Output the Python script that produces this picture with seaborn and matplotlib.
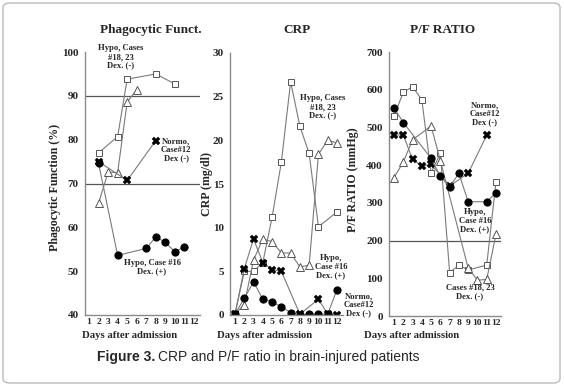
import matplotlib
matplotlib.use("Agg")
import matplotlib.pyplot as plt
import seaborn as sns
import pandas as pd
from matplotlib.patches import FancyBboxPatch

sns.set_theme(style="white")
plt.rcParams['font.family'] = ['Liberation Serif', 'DejaVu Serif']
plt.rcParams['font.weight'] = 'bold'

days_ticks = list(range(1, 13))

# Phagocytic function (%)
phago_sq_x = [2, 4, 5, 8, 10]
phago_sq_y = [77, 80.7, 93.8, 95, 92.7]
phago_tri_x = [2, 3, 4, 5, 6]
phago_tri_y = [65.5, 72.6, 72.5, 88.6, 91.4]
phago_x_x = [2, 5, 8]
phago_x_y = [75.0, 70.7, 79.8]
phago_ci_x = [2, 4, 7, 8, 9, 10, 11]
phago_ci_y = [74.6, 53.6, 55.2, 57.8, 56.6, 54.4, 55.6]

# CRP (mg/dl)
crp_sq_x = [1, 2, 3, 4, 5, 6, 7, 8, 9, 10, 12]
crp_sq_y = [0.1, 5.0, 5.0, 6.0, 11.2, 17.5, 26.7, 21.6, 18.5, 10.1, 11.8]
crp_tri_x = [1, 2, 3, 4, 5, 6, 7, 8, 9, 10, 11, 12]
crp_tri_y = [0.1, 1.2, 6.3, 8.7, 8.4, 7.1, 7.1, 5.5, 5.7, 18.4, 20.0, 19.7]
crp_x_x = [1, 2, 3, 4, 5, 6, 8, 10, 11, 12]
crp_x_y = [0.1, 5.3, 8.7, 6.0, 5.2, 5.0, 0.1, 1.8, 0.1, 0.0]
crp_ci_x = [1, 2, 3, 4, 5, 6, 7, 8, 9, 10, 11, 12]
crp_ci_y = [0.1, 1.9, 3.8, 1.8, 1.5, 0.95, 0.27, 0.05, 0.1, 0.1, 0.1, 2.9]

# P/F ratio (mmHg)
pf_sq_x = [1, 2, 3, 4, 5, 6, 7, 8, 9, 11, 12]
pf_sq_y = [530, 593, 608, 573, 380, 431, 115, 135, 122, 135, 356]
pf_tri_x = [1, 2, 3, 5, 6, 9, 10, 11, 12]
pf_tri_y = [367, 408, 467, 504, 412, 127, 95, 97, 217]
pf_x_x = [1, 2, 3, 4, 5, 7, 9, 11]
pf_x_y = [480, 480, 415, 398, 402, 345, 378, 480]
pf_ci_x = [1, 2, 5, 6, 7, 8, 9, 11, 12]
pf_ci_y = [552, 513, 418, 370, 343, 378, 303, 303, 327]

W, H = 564, 387
fig = plt.figure(figsize=(W / 100, H / 100), dpi=100)

def fx(px):
    return px / W

def fy(py):
    return 1 - py / H

LINE = '#7a7a7a'
SPINE = '#8a8a8a'
REF = '#555555'

def series(ax, x, y, kind):
    df = pd.DataFrame({'x': x, 'y': y})
    style = dict(color=LINE, linewidth=0.8, markeredgewidth=0.7)
    if kind == 'sq':
        style.update(marker='s', markersize=4.8, markerfacecolor='white', markeredgecolor='#555555')
    elif kind == 'tri':
        style.update(marker='^', markersize=5.2, markerfacecolor='white', markeredgecolor='#555555')
    elif kind == 'x':
        style.update(marker='X', markersize=5.5, markerfacecolor='black', markeredgecolor='black', markeredgewidth=0.3)
    else:
        style.update(marker='o', markersize=5.2, markerfacecolor='black', markeredgecolor='black')
    sns.lineplot(data=df, x='x', y='y', ax=ax, estimator=None, sort=False, **style)

def make_axes(left_px, right_px, top_px, bottom_px, xlim, ylim, yticks):
    ax = fig.add_axes([fx(left_px), fy(bottom_px), (right_px - left_px) / W, (bottom_px - top_px) / H])
    ax.set_xlim(*xlim)
    ax.set_ylim(*ylim)
    ax.set_facecolor('none')
    for s in ['top', 'right']:
        ax.spines[s].set_visible(False)
    for s in ['left', 'bottom']:
        ax.spines[s].set_color(SPINE)
        ax.spines[s].set_linewidth(1.0)
    ax.set_xticks(days_ticks)
    ax.set_yticks(yticks)
    ax.tick_params(axis='y', direction='out', length=3.5, width=0.8, color=SPINE, pad=1, labelsize=8)
    ax.tick_params(axis='x', direction='in', length=2, width=0.6, color=SPINE, pad=2, labelsize=6.8)
    for lab in ax.get_xticklabels() + ax.get_yticklabels():
        lab.set_fontweight('bold')
    return ax

ann = dict(fontsize=6.2, fontweight='bold', ha='center', va='center', linespacing=1.1)

# Panel 1
ax1 = make_axes(85, 200, 52, 315, (0.58, 12.63), (40, 100), [40, 50, 60, 70, 80, 90, 100])
ax1.axhline(90, color=REF, lw=0.9, zorder=1)
ax1.axhline(70, color=REF, lw=0.9, zorder=1)
series(ax1, phago_sq_x, phago_sq_y, 'sq')
series(ax1, phago_tri_x, phago_tri_y, 'tri')
series(ax1, phago_x_x, phago_x_y, 'x')
series(ax1, phago_ci_x, phago_ci_y, 'ci')
ax1.set_xlabel('')
ax1.set_ylabel('')

# Panel 2
ax2 = make_axes(230, 343, 53, 315, (0.46, 12.65), (0, 30), [0, 5, 10, 15, 20, 25, 30])
series(ax2, crp_sq_x, crp_sq_y, 'sq')
series(ax2, crp_tri_x, crp_tri_y, 'tri')
series(ax2, crp_x_x, crp_x_y, 'x')
series(ax2, crp_ci_x, crp_ci_y, 'ci')
ax2.set_xlabel('')
ax2.set_ylabel('')

# Panel 3
ax3 = make_axes(389, 501, 52, 316, (0.46, 12.54), (0, 700), [0, 100, 200, 300, 400, 500, 600, 700])
ax3.axhline(200, color=REF, lw=0.9, zorder=1)
series(ax3, pf_sq_x, pf_sq_y, 'sq')
series(ax3, pf_tri_x, pf_tri_y, 'tri')
series(ax3, pf_x_x, pf_x_y, 'x')
series(ax3, pf_ci_x, pf_ci_y, 'ci')
ax3.set_xlabel('')
ax3.set_ylabel('')

# Titles
for x, t in [(151, 'Phagocytic Funct.'), (297, 'CRP'), (443, 'P/F RATIO')]:
    fig.text(fx(x), fy(30), t, fontsize=9.5, fontweight='bold', ha='center', va='center')

# x labels
for x in [130, 265, 412]:
    fig.text(fx(x), fy(336), 'Days after admission', fontsize=7.7, fontweight='bold', ha='center', va='center')

# y labels
for x, y, t in [(55, 187, 'Phagocytic Function (%)'), (207, 184, 'CRP (mg/dl)'), (353, 180, 'P/F RATIO (mmHg)')]:
    fig.text(fx(x), fy(y), t, fontsize=8.6, fontweight='bold', ha='center', va='center', rotation=90)

# annotations
fig.text(fx(121), fy(57), 'Hypo, Cases\n#18, 23\nDex. (-)', **ann)
fig.text(fx(176), fy(150), 'Normo,\nCase#12\nDex (-)', **ann)
fig.text(fx(152), fy(267), 'Hypo, Case #16\nDex. (+)', **ann)
fig.text(fx(323), fy(107), 'Hypo, Cases\n#18, 23\nDex. (-)', **ann)
fig.text(fx(331), fy(267), 'Hypo,\nCase #16\nDex. (+)', **ann)
fig.text(fx(359), fy(305), 'Normo,\nCase#12\nDex (-)', **ann)
fig.text(fx(485), fy(114), 'Normo,\nCase#12\nDex (-)', **ann)
fig.text(fx(475), fy(221), 'Hypo,\nCase #16\nDex. (+)', **ann)
fig.text(fx(470), fy(292), 'Cases #18, 23\nDex. (-)', **ann)

# Caption
cap1 = fig.text(fx(97), fy(357), 'Figure 3.', fontsize=10, fontweight='bold', ha='left', va='center',
                family=['Liberation Sans', 'DejaVu Sans'])
fig.canvas.draw()
bb = cap1.get_window_extent()
fig.text((bb.x1 + 3) / W, fy(357), 'CRP and P/F ratio in brain-injured patients', fontsize=10,
         fontweight='normal', ha='left', va='center', family=['Liberation Sans', 'DejaVu Sans'])

# Rounded frame
frame = FancyBboxPatch((fx(3), fy(383)), (557) / W, (380) / H, boxstyle='round,pad=0,rounding_size=0.012',
                       transform=fig.transFigure, facecolor='none', edgecolor='#bbbbbb', linewidth=1.0)
fig.patches.append(frame)

fig.savefig('out.png', dpi=100)
